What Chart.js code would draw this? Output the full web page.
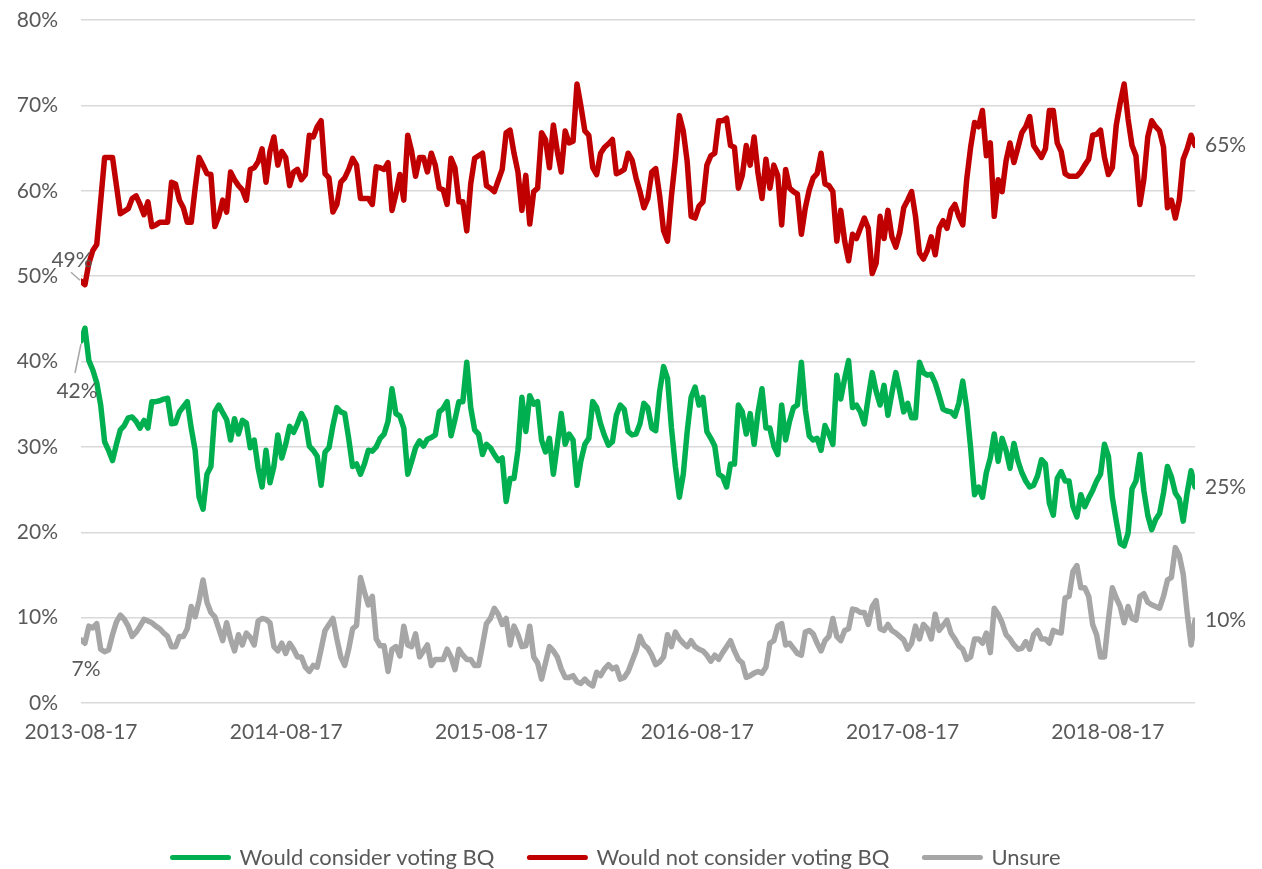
<!DOCTYPE html>
<html>
<head>
<meta charset="utf-8">
<title>BQ</title>
<script src="https://cdn.jsdelivr.net/npm/chart.js@4.4.1/dist/chart.umd.min.js"></script>
<style>
  html, body { margin: 0; padding: 0; background: #fff; }
  #wrap { width: 1262px; height: 869px; }
</style>
</head>
<body>
<div id="wrap"><canvas id="myChart"></canvas></div>
<script>
// DATA - weekly polls starting 2013-08-17
const startDate = '2013-08-17';
const stepDays = 7;
const xTickDates = ['2013-08-17', '2014-08-17', '2015-08-17', '2016-08-17', '2017-08-17', '2018-08-17'];

const considerBQ = [
  42.4, 43.9, 40.1, 39.0, 37.5, 34.9, 30.6, 29.6, 28.4, 30.3,
  32.0, 32.5, 33.4, 33.5, 33.0, 32.2, 33.1, 32.2, 35.3, 35.3,
  35.4, 35.6, 35.7, 32.7, 32.8, 34.1, 34.7, 35.3, 32.2, 29.6,
  24.1, 22.7, 26.8, 27.7, 34.1, 34.9, 34.0, 33.2, 30.8, 33.3,
  31.5, 33.1, 32.8, 29.9, 30.8, 27.5, 25.3, 29.6, 25.8, 27.7,
  31.4, 28.7, 30.3, 32.4, 31.7, 32.7, 33.9, 33.0, 30.1, 29.6,
  28.9, 25.5, 29.4, 29.9, 32.5, 34.6, 34.1, 33.9, 31.0, 27.7,
  28.0, 26.8, 28.0, 29.6, 29.5, 30.0, 31.0, 31.5, 33.0, 36.8,
  33.9, 33.6, 32.2, 26.8, 28.3, 29.9, 30.7, 30.1, 30.9, 31.1,
  31.4, 34.1, 34.5, 35.3, 31.3, 33.2, 35.3, 35.3, 39.9, 34.6,
  32.0, 31.5, 29.1, 30.3, 29.9, 29.1, 28.4, 28.7, 23.6, 26.3,
  26.3, 29.6, 35.8, 31.8, 36.0, 35.0, 35.3, 30.8, 29.4, 31.0,
  26.8, 30.3, 33.9, 30.3, 31.5, 30.8, 25.5, 28.4, 30.3, 31.0,
  35.3, 34.6, 32.7, 31.3, 30.2, 30.6, 33.7, 34.9, 34.4, 31.8,
  31.4, 31.5, 32.7, 35.1, 34.6, 32.2, 31.9, 36.5, 39.4, 38.0,
  32.2, 27.7, 24.1, 26.8, 31.8, 35.8, 37.0, 34.9, 35.8, 31.8,
  31.0, 30.1, 26.8, 26.5, 25.3, 28.0, 28.0, 34.9, 34.1, 31.5,
  33.9, 30.3, 34.1, 36.8, 32.2, 32.2, 30.1, 29.1, 34.9, 30.8,
  33.0, 34.6, 34.9, 39.9, 34.4, 31.3, 30.8, 31.0, 29.6, 32.5,
  31.5, 30.3, 38.4, 35.6, 38.0, 40.1, 34.6, 34.9, 34.1, 32.7,
  35.8, 38.7, 36.5, 34.9, 37.2, 33.7, 36.3, 38.7, 36.5, 34.1,
  35.1, 33.4, 33.4, 39.9, 38.7, 38.4, 38.5, 37.5, 36.0, 34.4,
  34.2, 34.1, 33.6, 35.1, 37.7, 34.6, 29.9, 24.4, 25.3, 24.1,
  27.0, 28.7, 31.5, 28.3, 31.0, 29.6, 27.5, 30.4, 28.4, 27.0,
  26.0, 25.3, 25.5, 26.6, 28.5, 28.0, 23.4, 22.0, 26.3, 27.1,
  26.0, 26.0, 23.0, 21.8, 24.4, 23.0, 24.0, 24.9, 26.0, 26.8,
  30.3, 28.9, 24.1, 21.3, 18.7, 18.4, 19.9, 25.1, 26.0, 29.1,
  24.9, 22.0, 20.3, 21.5, 22.2, 24.6, 27.7, 26.5, 24.6, 23.9,
  21.3, 24.6, 27.2, 25.3
];

const notConsiderBQ = [
  49.4, 49.0, 51.5, 53.0, 53.7, 58.8, 63.9, 63.9, 63.9, 60.6,
  57.3, 57.6, 57.9, 59.1, 59.4, 58.4, 57.2, 58.7, 55.8, 56.0,
  56.3, 56.3, 56.3, 61.0, 60.8, 58.9, 58.0, 56.3, 56.3, 60.3,
  63.9, 63.0, 62.0, 61.9, 55.8, 57.0, 58.9, 57.5, 62.2, 61.3,
  60.6, 60.1, 58.9, 62.5, 62.7, 63.4, 64.9, 61.0, 64.6, 66.3,
  63.0, 64.6, 63.9, 60.6, 62.2, 62.5, 61.3, 61.9, 66.5, 66.3,
  67.5, 68.2, 62.0, 61.5, 57.5, 58.4, 61.0, 61.5, 62.5, 63.8,
  63.0, 59.1, 59.1, 59.1, 58.4, 62.8, 62.7, 62.5, 63.3, 57.7,
  59.6, 61.9, 58.9, 66.5, 64.6, 61.7, 63.9, 63.9, 62.2, 64.4,
  63.0, 60.3, 60.1, 58.4, 63.8, 62.7, 58.7, 58.7, 55.3, 60.8,
  63.8, 64.1, 64.4, 60.6, 60.3, 59.9, 61.2, 62.5, 66.8, 67.1,
  64.4, 62.2, 57.7, 61.8, 56.1, 59.9, 60.3, 66.8, 66.0, 62.7,
  67.7, 64.6, 62.2, 67.0, 65.6, 65.8, 72.5, 69.9, 67.0, 66.5,
  62.7, 61.9, 64.4, 65.1, 65.5, 66.0, 62.0, 62.2, 62.5, 64.4,
  63.6, 61.5, 59.9, 58.0, 59.1, 62.2, 62.6, 59.4, 55.3, 54.1,
  59.4, 63.7, 68.8, 67.0, 63.4, 57.0, 56.8, 58.2, 58.7, 63.0,
  64.1, 64.4, 68.2, 68.2, 68.5, 65.3, 65.1, 60.3, 61.8, 65.3,
  63.0, 66.3, 62.0, 59.1, 63.7, 60.3, 63.0, 61.8, 56.0, 62.5,
  60.3, 59.9, 59.6, 54.9, 58.0, 60.1, 61.5, 62.0, 64.4, 60.8,
  60.6, 59.9, 54.1, 57.7, 54.1, 51.8, 54.9, 54.4, 55.6, 56.8,
  55.6, 50.3, 51.5, 57.0, 54.4, 57.7, 54.6, 53.4, 55.1, 58.0,
  58.9, 59.9, 57.0, 52.7, 52.0, 53.0, 54.6, 52.5, 55.6, 56.5,
  55.6, 57.7, 58.4, 57.0, 56.0, 61.3, 65.1, 68.0, 67.5, 69.4,
  64.1, 65.6, 57.0, 61.3, 59.9, 63.5, 65.6, 63.3, 65.0, 66.8,
  67.5, 68.7, 65.3, 64.6, 63.9, 64.9, 69.4, 69.4, 65.6, 64.6,
  62.0, 61.7, 61.7, 61.7, 62.2, 63.0, 63.7, 66.5, 66.6, 67.1,
  63.9, 61.9, 62.7, 67.7, 70.3, 72.5, 68.4, 65.3, 64.1, 58.4,
  61.3, 66.3, 68.2, 67.5, 67.0, 65.1, 58.0, 58.9, 56.8, 58.9,
  63.7, 64.9, 66.5, 65.3
];

const unsure = [
  7.4, 7.0, 9.0, 8.8, 9.3, 6.3, 6.0, 6.2, 8.0, 9.5,
  10.3, 9.8, 9.0, 7.8, 8.3, 9.0, 9.8, 9.6, 9.4, 9.0,
  8.7, 8.2, 7.8, 6.6, 6.6, 7.8, 7.8, 8.7, 11.3, 10.1,
  12.0, 14.4, 11.8, 10.6, 10.1, 8.7, 7.3, 9.4, 7.5, 6.1,
  8.0, 6.8, 8.2, 7.7, 6.8, 9.6, 9.9, 9.8, 9.4, 6.6,
  6.1, 7.0, 5.8, 7.0, 6.3, 5.4, 5.4, 4.2, 3.7, 4.4,
  4.2, 6.3, 8.5, 9.2, 9.9, 7.5, 5.4, 4.4, 6.3, 8.7,
  9.1, 14.7, 13.0, 11.5, 12.5, 7.5, 6.7, 6.7, 3.7, 6.3,
  6.6, 5.5, 9.0, 6.8, 6.6, 8.1, 5.4, 6.1, 6.8, 4.4,
  5.1, 5.1, 5.1, 6.3, 5.4, 3.9, 6.3, 5.6, 5.1, 5.1,
  4.4, 4.4, 6.8, 9.3, 9.9, 11.1, 10.4, 9.2, 9.9, 6.8,
  9.0, 8.0, 6.6, 6.7, 9.0, 5.4, 4.7, 2.8, 4.7, 6.6,
  6.1, 5.4, 4.0, 3.0, 3.0, 3.2, 2.5, 2.3, 2.8, 2.3,
  2.0, 3.6, 3.2, 4.0, 4.5, 4.0, 4.2, 2.8, 3.0, 3.7,
  4.9, 6.1, 7.8, 6.8, 6.4, 5.6, 4.5, 4.8, 5.4, 8.0,
  6.6, 8.3, 7.5, 7.0, 6.6, 7.3, 6.6, 6.3, 6.1, 5.6,
  4.9, 5.6, 5.1, 5.9, 6.6, 7.3, 6.1, 5.1, 4.7, 3.0,
  3.2, 3.5, 3.7, 3.5, 4.2, 7.0, 7.3, 9.0, 9.3, 6.8,
  7.0, 6.4, 5.8, 5.6, 8.3, 8.5, 8.1, 7.0, 6.1, 7.3,
  7.8, 9.9, 7.8, 7.3, 8.5, 8.7, 11.0, 10.9, 10.6, 10.6,
  9.2, 11.3, 12.0, 8.7, 8.5, 9.2, 8.5, 8.2, 7.8, 7.4,
  6.3, 7.0, 9.0, 7.5, 9.2, 8.7, 7.5, 10.4, 8.5, 9.1,
  9.7, 8.2, 7.5, 6.7, 6.3, 5.1, 5.4, 7.5, 7.5, 7.0,
  8.2, 5.9, 11.1, 10.4, 9.4, 8.0, 7.5, 6.8, 6.3, 6.4,
  7.2, 6.3, 8.0, 8.5, 7.5, 7.5, 7.0, 8.5, 8.3, 8.2,
  12.3, 12.5, 15.4, 16.1, 13.5, 13.5, 12.5, 9.2, 8.0, 5.4,
  5.4, 9.7, 13.5, 12.3, 11.3, 9.4, 11.3, 9.9, 9.7, 12.5,
  12.8, 11.8, 11.5, 11.3, 11.1, 12.5, 14.4, 14.7, 18.2, 17.3,
  15.1, 10.6, 6.8, 9.7
];

const FONT = 'Lato, "Open Sans", sans-serif';
const TEXT = '#595959';

// x in days since the first poll
const dayMs = 86400000;
const daysFrom = d => Math.round((Date.parse(d) - Date.parse(startDate)) / dayMs);
const pollDays = considerBQ.map((v, i) => i * stepDays);
const toPoints = arr => arr.map((v, i) => ({ x: pollDays[i], y: v }));

// first / last value labels (offsets in px from the point)
const firstLabelPos = [
  { dx: -4, dy: 50, leader: [-6, 32, 0, 3] },
  { dx: -9, dy: -21, leader: [-10, -9, -1, -1] },
  { dx: 5, dy: 29 }
];

const valueLabels = {
  id: 'valueLabels',
  afterDatasetsDraw(chart) {
    const ctx = chart.ctx;
    ctx.save();
    ctx.font = '21px ' + FONT;
    ctx.fillStyle = TEXT;
    ctx.textBaseline = 'middle';
    chart.data.datasets.forEach((ds, i) => {
      const pts = chart.getDatasetMeta(i).data;
      const vals = ds.data;
      const first = pts[0], last = pts[pts.length - 1];
      const pos = firstLabelPos[i];

      if (pos.leader) {
        const l = pos.leader;
        ctx.strokeStyle = '#a6a6a6';
        ctx.lineWidth = 1.5;
        ctx.beginPath();
        ctx.moveTo(first.x + l[0], first.y + l[1]);
        ctx.lineTo(first.x + l[2], first.y + l[3]);
        ctx.stroke();
      }
      ctx.textAlign = 'center';
      ctx.fillText(Math.round(vals[0].y) + '%', first.x + pos.dx, first.y + pos.dy);

      ctx.textAlign = 'left';
      ctx.fillText(Math.round(vals[vals.length - 1].y) + '%', last.x + 10, last.y);
    });
    ctx.restore();
  }
};

// move the legend row a bit to the right, like the original
const legendShift = {
  id: 'legendShift',
  afterLayout(chart) { chart.legend.left += 38; }
};

const lineStyle = color => ({
  borderColor: color,
  backgroundColor: color,
  pointBorderColor: color,
  pointBorderWidth: 5,
  borderWidth: 5.5,
  pointRadius: 0,
  tension: 0,
  borderJoinStyle: 'round',
  borderCapStyle: 'round'
});

// CHART
const ctx = document.getElementById('myChart').getContext('2d');

const chart = new Chart(ctx, {
  type: 'line',
  data: {
    datasets: [
      Object.assign({ label: 'Would consider voting BQ', data: toPoints(considerBQ) }, lineStyle('#00B050')),
      Object.assign({ label: 'Would not consider voting BQ', data: toPoints(notConsiderBQ) }, lineStyle('#C00000')),
      Object.assign({ label: 'Unsure', data: toPoints(unsure) }, lineStyle('#A6A6A6'))
    ]
  },
  options: {
    responsive: true,
    maintainAspectRatio: false,
    animation: false,
    events: [],
    devicePixelRatio: 1,
    layout: { padding: { left: 0, right: 67, top: 20, bottom: 0 } },
    scales: {
      x: {
        type: 'linear',
        min: 0,
        max: pollDays[pollDays.length - 1],
        afterBuildTicks: axis => { axis.ticks = xTickDates.map(d => ({ value: daysFrom(d) })); },
        afterFit: axis => { axis.height = 108.5; },
        grid: { display: false, drawTicks: false },
        border: { display: false },
        ticks: {
          autoSkip: false,
          maxRotation: 0,
          padding: 17,
          color: TEXT,
          font: { family: FONT, size: 21 },
          callback: (v, i) => xTickDates[i]
        }
      },
      y: {
        min: 0,
        max: 80,
        afterFit: axis => {
          axis.width = 81;
          axis.paddingTop = 0;
          axis.paddingBottom = 0;
        },
        grid: { color: '#d9d9d9', lineWidth: 1.5, drawTicks: false },
        border: { display: false },
        ticks: {
          stepSize: 10,
          padding: 23,
          color: TEXT,
          font: { family: FONT, size: 21 },
          callback: v => v + '%'
        }
      }
    },
    plugins: {
      legend: {
        position: 'bottom',
        maxHeight: 57.5,
        labels: {
          usePointStyle: true,
          pointStyle: 'line',
          pointStyleWidth: 56,
          padding: 35,
          color: TEXT,
          font: { family: FONT, size: 22 },
          generateLabels: c => Chart.defaults.plugins.legend.labels.generateLabels(c)
            .map(item => Object.assign(item, { lineCap: 'round', lineWidth: 5 }))
        }
      },
      tooltip: { enabled: false }
    }
  },
  plugins: [valueLabels, legendShift]
});
</script>
</body>
</html>
